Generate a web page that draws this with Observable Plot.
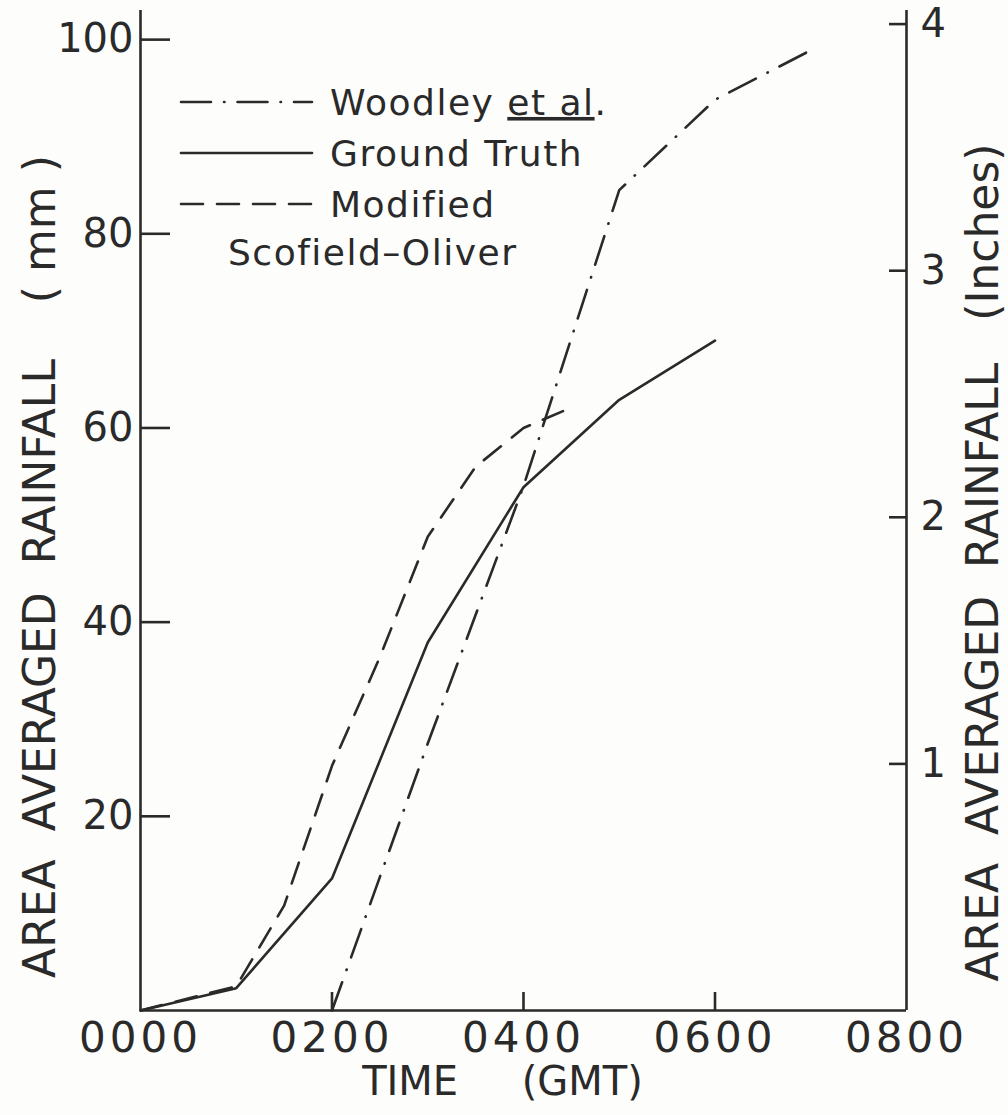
<!DOCTYPE html>
<html><head><meta charset="utf-8">
<script src="https://cdn.jsdelivr.net/npm/d3@7"></script>
<script src="https://cdn.jsdelivr.net/npm/@observablehq/plot@0.6"></script>
<style>
html,body{margin:0;padding:0;background:#fdfdfb;}
#chart{width:1008px;height:1115px;}
</style></head><body><div id="chart"></div>
<script>
// ---- data (time in hours GMT, rainfall in mm) ----
const gtHours = [0, 1, 2, 3, 4, 5, 6];
const gtMM = [0, 2.3, 13.6, 37.9, 53.9, 62.9, 69.0];
const woodleyHours = [2, 3, 4, 5, 6, 7];
const woodleyMM = [0, 27.5, 54, 84.5, 93.8, 98.9];
const msoHours = [0, 1, 1.5, 2, 2.5, 3, 3.5, 4, 4.5];
const msoMM = [0, 2.5, 10.8, 25.2, 36.4, 48.8, 56, 60, 62.1];
const xTicks = [0, 2, 4, 6, 8];
const xInnerTicks = [2, 4, 6];
const mmTicks = [20, 40, 60, 80, 100];
const inchTicks = [1, 2, 3, 4];
const seriesNames = ["Woodley", "Ground Truth", "Modified"];
const leftLabel = "AREA  AVERAGED  RAINFALL    ( mm )";
const rightLabel = "AREA  AVERAGED  RAINFALL   (Inches)";
const xLabel = "TIME     (GMT)";

const ink = "#2a2a2a";
const font = "'DejaVu Sans', sans-serif";
const rows = (hs, vs) => hs.map((h, i) => ({h, mm: vs[i]}));
const dashes = {
  "Woodley": "30,13,0.5,13",
  "Ground Truth": null,
  "Modified": "22,14"
};
const sw = 2.6;

const plot = Plot.plot({
  width: 1008, height: 1115,
  marginLeft: 140, marginRight: 102, marginTop: 10, marginBottom: 105,
  style: {background: "transparent", fontFamily: font, color: ink, overflow: "visible"},
  x: {domain: [0, 8]},
  y: {domain: [0, 103]},
  marks: [
    Plot.ruleX([0, 8], {stroke: ink, strokeWidth: sw}),
    Plot.ruleY([0], {stroke: ink, strokeWidth: sw}),
    Plot.axisX({ticks: xInnerTicks, tickSize: -18, text: null, label: null, strokeWidth: sw, stroke: ink}),
    Plot.axisX({ticks: xTicks, tickSize: 0, tickPadding: 12, fontSize: 42, label: null,
      tickFormat: d => String(d * 100).padStart(4, "0"), fill: ink}),
    Plot.axisY({ticks: mmTicks, tickSize: -30, text: null, label: null, strokeWidth: sw, stroke: ink}),
    Plot.axisY({ticks: mmTicks, tickSize: 0, tickPadding: 7, fontSize: 40, label: null, fill: ink}),
    Plot.axisY({anchor: "right", ticks: inchTicks.map(i => i * 25.4), tickSize: -18, text: null, label: null, strokeWidth: sw, stroke: ink}),
    Plot.axisY({anchor: "right", ticks: inchTicks.map(i => i * 25.4), tickSize: 0, tickPadding: 14, fontSize: 40, label: null,
      tickFormat: d => String(Math.round(d / 25.4)), fill: ink}),
    Plot.line(rows(gtHours, gtMM), {x: "h", y: "mm", stroke: ink, strokeWidth: sw}),
    Plot.line(rows(woodleyHours, woodleyMM), {x: "h", y: "mm", stroke: ink, strokeWidth: sw, strokeDasharray: dashes["Woodley"], strokeLinecap: "round"}),
    Plot.line(rows(msoHours, msoMM), {x: "h", y: "mm", stroke: ink, strokeWidth: sw, strokeDasharray: dashes["Modified"], strokeLinecap: "round"}),
    Plot.text([leftLabel], {frameAnchor: "left", textAnchor: "middle", rotate: -90, dx: -100, dy: 56, fontSize: 44, fill: ink}),
    Plot.text([rightLabel], {frameAnchor: "right", textAnchor: "middle", rotate: -90, dx: 77, dy: 52, fontSize: 44, fill: ink}),
    Plot.text([xLabel], {frameAnchor: "bottom", textAnchor: "middle", dy: 84, dx: -21, fontSize: 40, fill: ink})
  ]
});
document.getElementById("chart").appendChild(plot);

const svg = d3.select(plot);
svg.selectAll('g[aria-label="x-axis tick label"] text').style("letter-spacing", "4px");

// ---- legend (inside the plot, upper left) ----
const lg = svg.append("g").attr("fill", ink).attr("text-anchor", "start")
  .style("font-family", font).style("font-size", "36px").style("letter-spacing", "1.5px");
const rowY = [102, 153, 204];
seriesNames.forEach((name, i) => {
  lg.append("line").attr("x1", 181).attr("x2", 312).attr("y1", rowY[i]).attr("y2", rowY[i])
    .attr("stroke", ink).attr("stroke-width", sw).attr("stroke-linecap", "round")
    .attr("stroke-dasharray", dashes[name]);
});
const t0 = lg.append("text").attr("x", 330).attr("y", rowY[0]).attr("dy", "0.36em");
t0.append("tspan").text("Woodley ");
t0.append("tspan").attr("text-decoration", "underline").text("et al");
t0.append("tspan").text(".");
lg.append("text").attr("x", 330).attr("y", rowY[1]).attr("dy", "0.36em").text("Ground Truth");
lg.append("text").attr("x", 330).attr("y", rowY[2]).attr("dy", "0.36em").text("Modified");
lg.append("text").attr("x", 228).attr("y", 252).attr("dy", "0.36em").text("Scofield\u2013Oliver");
</script></body></html>
